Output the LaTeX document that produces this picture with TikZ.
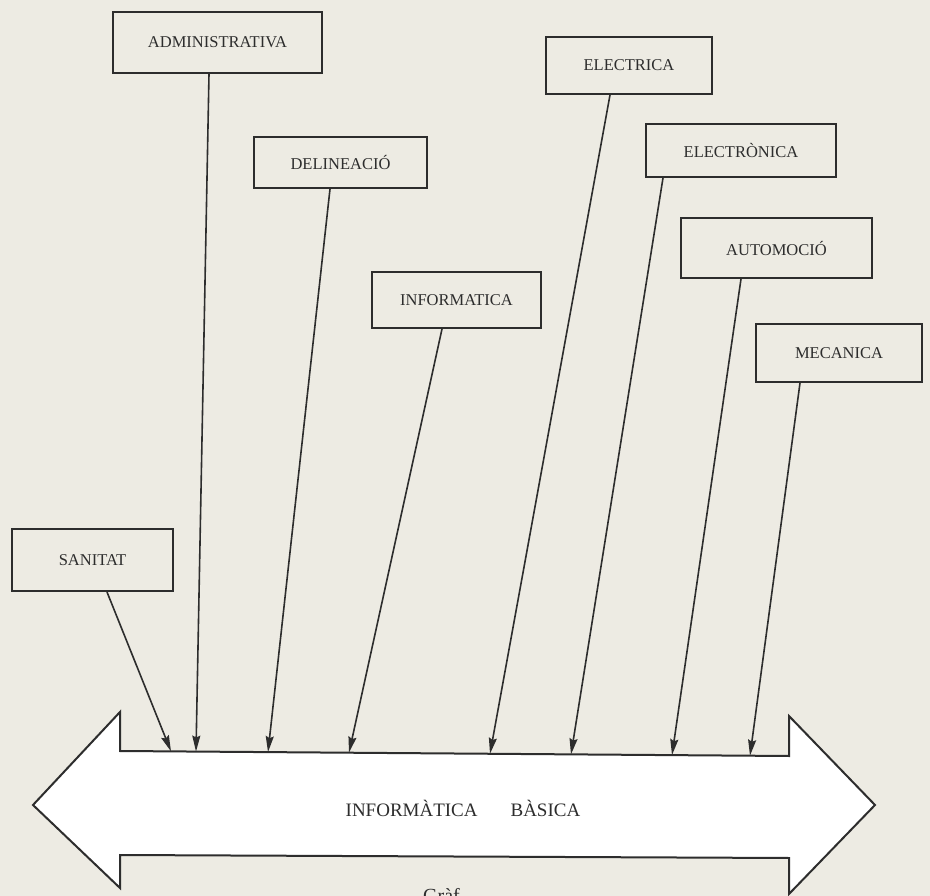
\documentclass[tikz,border=0pt]{standalone}
\usepackage{fontspec}
\setmainfont{Liberation Serif}
\usetikzlibrary{arrows.meta}

\definecolor{paper}{RGB}{237,235,227}
\definecolor{tinta}{RGB}{45,45,45}

\tikzset{
    caixa/.style={draw=tinta, line width=2pt, inner sep=0pt, text=tinta,
        font=\fontsize{16.5}{20}\selectfont},
    fletxa/.style={draw=tinta, line width=1.6pt,
        -{Stealth[length=16pt, width=8pt, inset=2pt]}},
}

\begin{document}
\begin{tikzpicture}[x=1pt, y=-1pt]
        \useasboundingbox[fill=paper] (0,0) rectangle (930,896);

        % la fletxa doble
        \draw[tinta, line width=2pt, fill=white, line join=miter]
            (120,751) -- (789,756) -- (789,716) -- (875,805) -- (789,894)
            -- (789,858) -- (120,855) -- (120,888) -- (33,805) -- (120,712) -- cycle;
        \node[text=tinta, font=\fontsize{19}{22}\selectfont] (basica) at (463,808)
            {INFORMÀTICA\hspace{33pt}BÀSICA};
        \node[anchor=north west, inner sep=0pt, text=tinta,
            font=\fontsize{20}{24}\selectfont] (graf) at (423,888) {Gràf};

        \coordinate (b1) at (171,751.4);
        \coordinate (b2) at (196,751.6);
        \coordinate (b3) at (268,752.1);
        \coordinate (b4) at (349,752.7);
        \coordinate (b5) at (490,753.8);
        \coordinate (b6) at (571,754.4);
        \coordinate (b7) at (672,755.1);
        \coordinate (b8) at (750,755.7);

        \node[caixa, minimum width=209, minimum height=61] (admin) at (217.5,42.5) {ADMINISTRATIVA};
        \node[caixa, minimum width=166, minimum height=57] (electrica) at (629,65.5) {ELECTRICA};
        \node[caixa, minimum width=173, minimum height=51] (delineacio) at (340.5,162.5) {DELINEACIÓ};
        \node[caixa, minimum width=190, minimum height=53] (electronica) at (741,150.5) {ELECTRÒNICA};
        \node[caixa, minimum width=191, minimum height=60] (automocio) at (776.5,248) {AUTOMOCIÓ};
        \node[caixa, minimum width=169, minimum height=56] (informatica) at (456.5,300) {INFORMATICA};
        \node[caixa, minimum width=166, minimum height=58] (mecanica) at (839,353) {MECANICA};
        \node[caixa, minimum width=161, minimum height=62] (sanitat) at (92.5,560) {SANITAT};

        \draw[fletxa] ([xshift=14.5pt]sanitat.south) -- (b1);
        \draw[fletxa] ([xshift=-8.5pt]admin.south) -- (b2);
        \draw[fletxa] ([xshift=-10.5pt]delineacio.south) -- (b3);
        \draw[fletxa] ([xshift=-14.5pt]informatica.south) -- (b4);
        \draw[fletxa] ([xshift=-19pt]electrica.south) -- (b5);
        \draw[fletxa] ([xshift=-78pt]electronica.south) -- (b6);
        \draw[fletxa] ([xshift=-35.5pt]automocio.south) -- (b7);
        \draw[fletxa] ([xshift=-39pt]mecanica.south) -- (b8);

    \end{tikzpicture}
\end{document}
